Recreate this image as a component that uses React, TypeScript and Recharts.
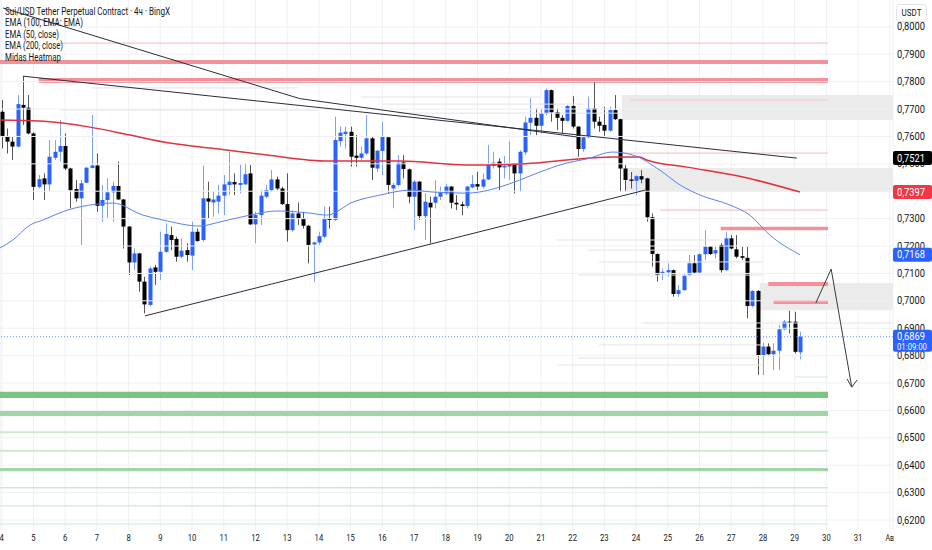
import { ComposedChart, Bar, Line, XAxis, YAxis, CartesianGrid, ReferenceLine, ReferenceArea } from 'recharts';

// 4h candles, index 0 = day 4 00:00
const opens = [
  0.7690, 0.7599, 0.7581, 0.7563, 0.7715, 0.7705, 0.7611, 0.7416, 0.7447, 0.7425,
  0.7522, 0.7544, 0.7565, 0.7483, 0.7408, 0.7374, 0.7431, 0.7485, 0.7494, 0.7347,
  0.7368, 0.7396, 0.7419, 0.7370, 0.7271, 0.7140, 0.7173, 0.7070, 0.6985, 0.7122,
  0.7106, 0.7179, 0.7240, 0.7226, 0.7161, 0.7185, 0.7165, 0.7252, 0.7222, 0.7374,
  0.7359, 0.7362, 0.7384, 0.7423, 0.7434, 0.7423, 0.7425, 0.7465, 0.7279, 0.7313,
  0.7380, 0.7404, 0.7443, 0.7410, 0.7353, 0.7258, 0.7319, 0.7301, 0.7274, 0.7206,
  0.7213, 0.7234, 0.7301, 0.7295, 0.7583, 0.7609, 0.7617, 0.7530, 0.7522, 0.7538,
  0.7593, 0.7483, 0.7547, 0.7597, 0.7410, 0.7423, 0.7505, 0.7480, 0.7380, 0.7435,
  0.7309, 0.7358, 0.7358, 0.7380, 0.7392, 0.7417, 0.7358, 0.7352, 0.7346, 0.7414,
  0.7426, 0.7417, 0.7443, 0.7492, 0.7508, 0.7487, 0.7490, 0.7499, 0.7465, 0.7542,
  0.7650, 0.7668, 0.7639, 0.7684, 0.7769, 0.7688, 0.7668, 0.7657, 0.7711, 0.7636,
  0.7554, 0.7597, 0.7702, 0.7654, 0.7642, 0.7621, 0.7696, 0.7663, 0.7483, 0.7443,
  0.7438, 0.7455, 0.7447, 0.7305, 0.7171, 0.7098, 0.7104, 0.7112, 0.7025, 0.7039,
  0.7094, 0.7137, 0.7103, 0.7170, 0.7198, 0.7173, 0.7204, 0.7112, 0.7228, 0.7188,
  0.7163, 0.7157, 0.6981, 0.7036, 0.6802, 0.6833, 0.6805, 0.6818, 0.6896, 0.6924,
  0.6924, 0.6812,
];
const highs = [
  0.7733, 0.7629, 0.7599, 0.7751, 0.7820, 0.7751, 0.7615, 0.7459, 0.7465, 0.7587,
  0.7587, 0.7660, 0.7611, 0.7486, 0.7441, 0.7441, 0.7488, 0.7678, 0.7538, 0.7423,
  0.7447, 0.7435, 0.7508, 0.7372, 0.7273, 0.7191, 0.7175, 0.7088, 0.7125, 0.7131,
  0.7252, 0.7283, 0.7271, 0.7234, 0.7228, 0.7210, 0.7289, 0.7264, 0.7494, 0.7435,
  0.7398, 0.7423, 0.7459, 0.7544, 0.7465, 0.7496, 0.7502, 0.7496, 0.7325, 0.7404,
  0.7423, 0.7477, 0.7453, 0.7417, 0.7465, 0.7331, 0.7359, 0.7325, 0.7277, 0.7216,
  0.7252, 0.7344, 0.7344, 0.7672, 0.7636, 0.7636, 0.7636, 0.7605, 0.7563, 0.7678,
  0.7599, 0.7550, 0.7654, 0.7599, 0.7430, 0.7532, 0.7532, 0.7483, 0.7441, 0.7437,
  0.7392, 0.7380, 0.7441, 0.7417, 0.7426, 0.7419, 0.7386, 0.7362, 0.7419, 0.7459,
  0.7471, 0.7465, 0.7569, 0.7544, 0.7520, 0.7528, 0.7583, 0.7502, 0.7550, 0.7672,
  0.7739, 0.7702, 0.7702, 0.7775, 0.7771, 0.7702, 0.7678, 0.7715, 0.7747, 0.7637,
  0.7605, 0.7745, 0.7800, 0.7672, 0.7708, 0.7708, 0.7751, 0.7665, 0.7496, 0.7470,
  0.7459, 0.7477, 0.7449, 0.7319, 0.7173, 0.7118, 0.7137, 0.7114, 0.7058, 0.7100,
  0.7167, 0.7167, 0.7173, 0.7258, 0.7200, 0.7200, 0.7210, 0.7252, 0.7240, 0.7240,
  0.7198, 0.7198, 0.7039, 0.7039, 0.6847, 0.6845, 0.6845, 0.6912, 0.6930, 0.6964,
  0.6960, 0.6887,
];
const lows = [
  0.7556, 0.7538, 0.7514, 0.7560, 0.7642, 0.7608, 0.7368, 0.7410, 0.7368, 0.7398,
  0.7514, 0.7508, 0.7477, 0.7338, 0.7362, 0.7204, 0.7429, 0.7483, 0.7325, 0.7289,
  0.7301, 0.7289, 0.7368, 0.7191, 0.7094, 0.7112, 0.7033, 0.6954, 0.6979, 0.7058,
  0.7076, 0.7175, 0.7185, 0.7143, 0.7155, 0.7143, 0.7112, 0.7216, 0.7216, 0.7301,
  0.7307, 0.7319, 0.7313, 0.7386, 0.7386, 0.7392, 0.7423, 0.7277, 0.7210, 0.7277,
  0.7374, 0.7398, 0.7404, 0.7350, 0.7216, 0.7252, 0.7277, 0.7264, 0.7137, 0.7070,
  0.7204, 0.7228, 0.7264, 0.7291, 0.7563, 0.7556, 0.7490, 0.7490, 0.7514, 0.7532,
  0.7441, 0.7471, 0.7459, 0.7392, 0.7338, 0.7417, 0.7447, 0.7356, 0.7258, 0.7295,
  0.7222, 0.7210, 0.7337, 0.7368, 0.7386, 0.7337, 0.7331, 0.7313, 0.7337, 0.7410,
  0.7404, 0.7410, 0.7441, 0.7483, 0.7404, 0.7447, 0.7441, 0.7392, 0.7398, 0.7532,
  0.7605, 0.7605, 0.7611, 0.7678, 0.7654, 0.7623, 0.7611, 0.7654, 0.7629, 0.7526,
  0.7544, 0.7593, 0.7629, 0.7617, 0.7599, 0.7617, 0.7660, 0.7398, 0.7398, 0.7410,
  0.7386, 0.7429, 0.7289, 0.7125, 0.7070, 0.7076, 0.7088, 0.7015, 0.7015, 0.7037,
  0.7092, 0.7098, 0.7100, 0.7149, 0.7167, 0.7155, 0.7103, 0.7110, 0.7188, 0.7155,
  0.7149, 0.6936, 0.6976, 0.6729, 0.6729, 0.6799, 0.6747, 0.6747, 0.6893, 0.6881,
  0.6808, 0.6786,
];
const closes = [
  0.7599, 0.7581, 0.7563, 0.7718, 0.7705, 0.7611, 0.7416, 0.7444, 0.7425, 0.7526,
  0.7544, 0.7565, 0.7483, 0.7404, 0.7374, 0.7429, 0.7486, 0.7494, 0.7347, 0.7368,
  0.7396, 0.7419, 0.7370, 0.7271, 0.7140, 0.7173, 0.7070, 0.6987, 0.7118, 0.7106,
  0.7179, 0.7244, 0.7222, 0.7161, 0.7183, 0.7167, 0.7252, 0.7218, 0.7374, 0.7362,
  0.7370, 0.7384, 0.7425, 0.7435, 0.7425, 0.7430, 0.7462, 0.7279, 0.7313, 0.7384,
  0.7404, 0.7443, 0.7410, 0.7353, 0.7258, 0.7319, 0.7301, 0.7274, 0.7204, 0.7213,
  0.7236, 0.7301, 0.7295, 0.7587, 0.7614, 0.7617, 0.7526, 0.7522, 0.7538, 0.7593,
  0.7486, 0.7548, 0.7599, 0.7423, 0.7423, 0.7504, 0.7481, 0.7380, 0.7435, 0.7309,
  0.7362, 0.7341, 0.7380, 0.7395, 0.7417, 0.7358, 0.7352, 0.7346, 0.7417, 0.7426,
  0.7417, 0.7443, 0.7496, 0.7504, 0.7487, 0.7492, 0.7499, 0.7465, 0.7544, 0.7651,
  0.7668, 0.7639, 0.7684, 0.7769, 0.7688, 0.7668, 0.7657, 0.7711, 0.7636, 0.7554,
  0.7597, 0.7702, 0.7654, 0.7639, 0.7621, 0.7696, 0.7663, 0.7483, 0.7441, 0.7438,
  0.7455, 0.7443, 0.7305, 0.7171, 0.7094, 0.7106, 0.7112, 0.7025, 0.7039, 0.7092,
  0.7137, 0.7103, 0.7170, 0.7198, 0.7171, 0.7185, 0.7112, 0.7228, 0.7191, 0.7161,
  0.7157, 0.6981, 0.7036, 0.6802, 0.6833, 0.6805, 0.6818, 0.6896, 0.6924, 0.6920,
  0.6814, 0.6869,
];

const dayLabels = [
  '4', '5', '6', '7', '8', '9', '10', '11', '12', '13', '14', '15', '16', '17',
  '18', '19', '20', '21', '22', '23', '24', '25', '26', '27', '28', '29', '30', '31', 'Ав',
];
const dayTicks = dayLabels.map((_, k) => k * 6);

const priceTicks = [
  0.62, 0.63, 0.64, 0.65, 0.66, 0.67, 0.68, 0.69, 0.70, 0.71,
  0.72, 0.73, 0.74, 0.75, 0.76, 0.77, 0.78, 0.79, 0.80,
];
const priceTags = [0.7521, 0.7397, 0.7168, 0.6869];
const tagColors = ['#000000', '#f23645', '#2962ff', '#2962ff'];
const tagSubtext = ['', '', '', '01:09:00'];

const ema50Idx = [
  -0.32, 2.1, 5.4, 7.8, 12.4, 18, 21, 26.7, 30.5, 37.5, 41.3, 47, 52.1, 58.3, 61.5, 66.5, 71.6,
  77.2, 81.6, 88, 94.2, 98, 101.8, 106.9, 110.7, 115.6, 119.4, 124.5, 128.3, 132.1, 137.7, 141.5, 145.3, 151,
];
const ema50Val = [
  0.7193, 0.7222, 0.7277, 0.7295, 0.7331, 0.7353, 0.7357, 0.7313, 0.7295, 0.7273, 0.7288, 0.7313, 0.7328,
  0.7320, 0.7313, 0.7361, 0.7386, 0.7404, 0.7397, 0.7393, 0.7415, 0.7441, 0.7470, 0.7503, 0.7518, 0.7543,
  0.7532, 0.7477, 0.7423, 0.7386, 0.7350, 0.7313, 0.7240, 0.7168,
];
const ema200Idx = [-0.32, 7.2, 16.7, 24.3, 31.8, 39.4, 50.2, 61.7, 75.3, 88, 98, 106.9, 115.6, 120.7, 122, 129.6, 140.2, 151];
const ema200Val = [
  0.7660, 0.7656, 0.7634, 0.7605, 0.7576, 0.7558, 0.7532, 0.7510, 0.7510, 0.7496, 0.7499, 0.7514,
  0.7525, 0.7525, 0.7514, 0.7488, 0.7452, 0.7397,
];

// hand-drawn lines: [index, price] pairs
const trendA = [[0.25, 0.8069], [56.4, 0.7738]];
const trendC = [[56.4, 0.7738], [108.8, 0.7598]];
const trendB = [[4, 0.7820], [150.4, 0.7521]];
const supportLine = [[27.1, 0.6945], [121.7, 0.7404]];
const forecast = [[154, 0.6992], [156.9, 0.7116], [160.8, 0.6685]];
const arrowHead = [[159.9, 0.6715], [160.8, 0.6685], [161.8, 0.6711]];

// heatmap zones: [fromIndex, toIndex, low, high]
const redBands = [
  [-0.32, 156.3, 0.7864, 0.7879],
  [7, 156.3, 0.7795, 0.7813],
  [136, 156.3, 0.7258, 0.7270],
  [145, 156.3, 0.7054, 0.7069],
  [146, 156.3, 0.6988, 0.7003],
];
const pinkLines = [
  [11, 156.3, 0.7938, 0.7943],
  [119, 156.3, 0.7731, 0.7735],
  [117.5, 156.3, 0.7537, 0.7541],
  [124.5, 156.3, 0.7329, 0.7333],
];
const grayZones = [
  [117.3, 168.6, 0.7660, 0.7751],
  [118, 168.6, 0.7397, 0.7485],
  [143.4, 168.6, 0.6966, 0.7065],
];
const greenStrong = [[-0.32, 156.3, 0.6645, 0.6668]];
const greenMid = [
  [-0.32, 156.3, 0.6580, 0.6598],
  [-0.32, 156.3, 0.6378, 0.6390],
];
const greenLight = [
  [-0.32, 156.3, 0.6517, 0.6524],
  [-0.32, 156.3, 0.6449, 0.6456],
  [-0.32, 156.3, 0.6315, 0.6320],
  [-0.32, 156.3, 0.6249, 0.6254],
  [-0.32, 156.3, 0.6184, 0.6187],
  [150, 156.3, 0.6720, 0.6724],
];
const faintLevels = [
  [17, 56, 0.7777], [11, 60, 0.7696], [68, 102, 0.7744], [72, 110, 0.7718], [75, 117, 0.7685],
  [108, 121, 0.7350], [105, 136, 0.7222], [111, 132, 0.7185], [113, 144, 0.7142], [109, 144, 0.7094],
  [121, 168.6, 0.6919], [113, 144, 0.6839], [109, 144, 0.6791], [105, 144, 0.6766],
];

const candles = opens.map((o, k) => ({
  i: k,
  open: o,
  high: highs[k],
  low: lows[k],
  close: closes[k],
  range: [lows[k], highs[k]],
}));
const ema50 = ema50Idx.map((i, k) => ({ i, v: ema50Val[k] }));
const ema200 = ema200Idx.map((i, k) => ({ i, v: ema200Val[k] }));

const fmt = (v: number) => v.toFixed(4).replace('.', ',');

function Candle(props: any) {
  const { x, y, width, height } = props;
  const p = props.payload ?? props;
  if (x == null || y == null || !p) return null;
  const top = Math.min(y, y + height);
  const h = Math.abs(height);
  const span = p.high - p.low;
  const k = span > 0 ? h / span : 0;
  const bull = p.close >= p.open;
  const bodyTop = top + (p.high - Math.max(p.open, p.close)) * k;
  const bodyH = Math.max(1, Math.abs(p.close - p.open) * k);
  const cx = Math.round(x + width / 2) + 0.5;
  return (
    <g>
      <line x1={cx} x2={cx} y1={top} y2={top + h} stroke={bull ? '#7da2f8' : '#555555'} strokeWidth={1} />
      <rect x={cx - 2} y={bodyTop} width={4} height={bodyH} fill={bull ? '#2962ff' : '#000000'} />
    </g>
  );
}

function PriceTick(props: any) {
  const { x, y, payload } = props;
  const v = payload.value;
  const t = priceTags.indexOf(v);
  if (t < 0) {
    return (
      <text x={x} y={y + 3.5} fontSize={10} fill="#131722" fontFamily="Roboto" textLength={28} lengthAdjust="spacingAndGlyphs">
        {fmt(v)}
      </text>
    );
  }
  const two = tagSubtext[t] !== '';
  return (
    <g>
      <rect x={x - 4} y={y - 7} width={39} height={two ? 22 : 14} rx={2} fill={tagColors[t]} />
      <text x={x} y={y + 3.5} fontSize={10} fill="#ffffff" fontFamily="Roboto" textLength={28} lengthAdjust="spacingAndGlyphs">
        {fmt(v)}
      </text>
      {two && (
        <text x={x} y={y + 13} fontSize={9.5} fill="#ffffff" fontFamily="Roboto" textLength={30} lengthAdjust="spacingAndGlyphs">
          {tagSubtext[t]}
        </text>
      )}
    </g>
  );
}

function DayTick(props: any) {
  const { x, y, payload } = props;
  const label = dayLabels[Math.round(payload.value / 6)] ?? '';
  return (
    <text x={x} y={y + 9} fontSize={9.5} fill="#131722" fontFamily="Roboto" textAnchor="middle"
      textLength={label.length * 4.3} lengthAdjust="spacingAndGlyphs">
      {label}
    </text>
  );
}

const legendLines = [
  { text: 'Sui/USD Tether Perpetual Contract · 4ч · BingX', w: 165 },
  { text: 'EMA (100, EMA: EMA)', w: 78 },
  { text: 'EMA (50, close)', w: 54 },
  { text: 'EMA (200, close)', w: 58 },
  { text: 'Midas Heatmap', w: 56 },
];

const zone = (b: number[], fill: string, key: string) => (
  <ReferenceArea key={key} x1={b[0]} x2={b[1]} y1={b[2]} y2={b[3]} fill={fill} fillOpacity={1}
    stroke="none" ifOverflow="hidden" />
);
const seg = (pts: number[][], key: string, color = '#2a2e39', w = 1) => (
  <ReferenceLine key={key} segment={[{ x: pts[0][0], y: pts[0][1] }, { x: pts[1][0], y: pts[1][1] }]}
    stroke={color} strokeWidth={w} ifOverflow="hidden" />
);

export default function App() {
  return (
    <div style={{ position: 'absolute', left: 0, top: 0, width: 932, height: 550, background: '#ffffff', fontFamily: 'Roboto' }}>
      <ComposedChart width={932} height={550} data={candles} margin={{ top: 0, right: 0, bottom: 0, left: 0 }}>
        <CartesianGrid horizontal={false} stroke="#eef0f5" />
        <XAxis dataKey="i" type="number" domain={[-0.32, 168.6]} allowDataOverflow ticks={dayTicks} interval={0}
          height={20} axisLine={false} tickLine={false} tickSize={0} tick={(p: any) => <DayTick {...p} />} />
        <YAxis orientation="right" type="number" domain={[0.61635, 0.8098]} allowDataOverflow width={39}
          ticks={[...priceTicks, ...priceTags]} interval={0} axisLine={false} tickLine={false} tickSize={0} tickMargin={4}
          tick={(p: any) => <PriceTick {...p} />} />
        {priceTicks.map((v) => (
          <ReferenceLine key={'g' + v} y={v} stroke="#eef0f5" ifOverflow="hidden" />
        ))}
        {faintLevels.map((f, k) => (
          <ReferenceLine key={'f' + k} segment={[{ x: f[0], y: f[2] }, { x: f[1], y: f[2] }]}
            stroke="#e3e3e3" strokeWidth={1} ifOverflow="hidden" />
        ))}
        {grayZones.map((b, k) => zone(b, '#ebebeb', 'gz' + k))}
        {redBands.map((b, k) => zone(b, '#f2919a', 'rb' + k))}
        {pinkLines.map((b, k) => zone(b, '#f8c6ca', 'pl' + k))}
        {greenStrong.map((b, k) => zone(b, '#7dc381', 'gs' + k))}
        {greenMid.map((b, k) => zone(b, '#a2d5a5', 'gm' + k))}
        {greenLight.map((b, k) => zone(b, '#cfe9d0', 'gl' + k))}
        <ReferenceLine y={0.6869} stroke="#2962ff" strokeOpacity={0.7} strokeDasharray="1 2" ifOverflow="hidden" />
        <Line data={ema200} dataKey="v" type="monotone" stroke="#e0323f" strokeWidth={1.5} dot={false}
          isAnimationActive={false} />
        <Line data={ema50} dataKey="v" type="monotone" stroke="#5a82f0" strokeWidth={1} dot={false}
          isAnimationActive={false} />
        <Bar dataKey="range" barSize={4} shape={(p: any) => <Candle {...p} />} isAnimationActive={false} />
        {seg(trendA, 'ta')}
        {seg(trendC, 'tc')}
        {seg(trendB, 'tb')}
        {seg(supportLine, 'sl')}
        {seg([forecast[0], forecast[1]], 'f1', '#3a3a3a')}
        {seg([forecast[1], forecast[2]], 'f2', '#3a3a3a')}
        {seg([arrowHead[0], arrowHead[1]], 'a1', '#3a3a3a')}
        {seg([arrowHead[1], arrowHead[2]], 'a2', '#3a3a3a')}
      </ComposedChart>
      <svg width={932} height={70} style={{ position: 'absolute', left: 0, top: 0, pointerEvents: 'none' }}>
        {legendLines.map((l, k) => (
          <text key={k} x={5} y={14.5 + k * 11.5} fontSize={10.5} fill="#131722" fontFamily="Roboto"
            textLength={l.w} lengthAdjust="spacingAndGlyphs">
            {l.text}
          </text>
        ))}
        <rect x={896.5} y={4.5} width={30} height={17} rx={3} fill="#ffffff" stroke="#e0e3eb" />
        <text x={911.5} y={16} fontSize={8.5} fill="#131722" fontFamily="Roboto" textAnchor="middle"
          textLength={20} lengthAdjust="spacingAndGlyphs">
          USDT
        </text>
      </svg>
    </div>
  );
}
